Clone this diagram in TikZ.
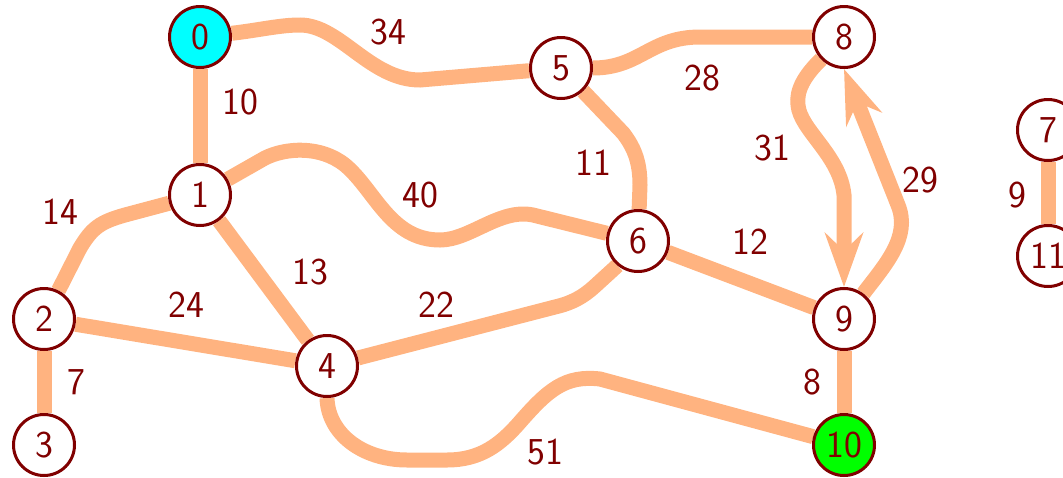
\documentclass[tikz,border=0pt]{standalone}
\usetikzlibrary{arrows.meta,backgrounds}
\definecolor{edgec}{RGB}{255,179,128}
\definecolor{darkred}{RGB}{128,0,0}
\definecolor{cyanfill}{RGB}{0,255,255}
\definecolor{greenfill}{RGB}{0,255,0}
\tikzset{
  vertex/.style={circle,draw=darkred,line width=3pt,fill=white,minimum size=61pt,inner sep=0pt,text=darkred,font=\fontsize{38}{40}\selectfont\sffamily},
  wlabel/.style={text=darkred,inner sep=0pt,font=\fontsize{38}{40}\selectfont\sffamily},
  edge/.style={draw=edgec,line width=15pt},
  arr/.style={-{Stealth[length=54pt,width=38pt,inset=18pt]}}
}
\begin{document}
\begin{tikzpicture}[x=1pt,y=-1pt]
\useasboundingbox (0,0) rectangle (1063,477);
\clip (0,0) rectangle (1063,477);
% nodes
\node[vertex,fill=cyanfill] (n0) at (200,37) {0};
\node[vertex] (n1) at (200,195) {1};
\node[vertex] (n2) at (44,319) {2};
\node[vertex] (n3) at (44,445) {3};
\node[vertex] (n4) at (327,366) {4};
\node[vertex] (n5) at (561,68) {5};
\node[vertex] (n6) at (638,241) {6};
\node[vertex] (n7) at (1048,130) {7};
\node[vertex] (n8) at (844,37) {8};
\node[vertex] (n9) at (844,319) {9};
\node[vertex,fill=greenfill] (n10) at (844,445) {10};
\node[vertex] (n11) at (1048,256) {11};
% labels
\node[wlabel] (l10) at (240,102) {10};
\node[wlabel] (l34) at (388,32) {34};
\node[wlabel] (l28) at (702,78) {28};
\node[wlabel] (l31) at (772,148) {31};
\node[wlabel] (l29) at (920,180) {29};
\node[wlabel] (l14) at (60,212) {14};
\node[wlabel] (l40) at (420,195) {40};
\node[wlabel] (l11) at (593,163) {11};
\node[wlabel] (l13) at (310,272) {13};
\node[wlabel] (l24) at (186,305) {24};
\node[wlabel] (l22) at (436,305) {22};
\node[wlabel] (l12) at (750,242) {12};
\node[wlabel] (l7) at (76,382) {7};
\node[wlabel] (l8) at (812,382) {8};
\node[wlabel] (l51) at (545,452) {51};
\node[wlabel] (l9) at (1017,195) {9};
% edges
\begin{pgfonlayer}{background}
\draw[edge] (n0) -- (n1);
\draw[edge] (n0) .. controls (260,30) and (280,25) .. (300,25) .. controls (340,25) and (370,80) .. (420,80) -- (n5);
\draw[edge] (n5) .. controls (640,68) and (650,37) .. (700,37) -- (n8);
\draw[edge,arr] (n8) .. controls (805,75) and (796,90) .. (798,105) .. controls (800,130) and (840,155) .. (844,195) -- (n9);
\draw[edge,arr] (n9) .. controls (885,265) and (911,237) .. (898,205) -- (n8.south);
\draw[edge] (n1) -- (125,215) .. controls (100,222) and (92,228) .. (80,248) -- (n2);
\draw[edge] (n1) -- (265,158) .. controls (285,148) and (320,145) .. (345,165) .. controls (375,190) and (390,240) .. (440,240) .. controls (470,240) and (500,208) .. (533,215) -- (n6);
\draw[edge] (n1) -- (n4);
\draw[edge] (n2) -- (n4);
\draw[edge] (n2) -- (n3);
\draw[edge] (n4) -- (555,307) .. controls (572,303) and (583,297) .. (595,286) -- (n6.230);
\draw[edge] (n5) -- (623,133) .. controls (633,146) and (640,160) .. (640,185) -- (n6);
\draw[edge] (n6) -- (n9);
\draw[edge] (n9) -- (n10);
\draw[edge] (n4.south) .. controls (328,434) and (363,460) .. (407,460) -- (447,460) .. controls (480,460) and (500,445) .. (520,422) .. controls (548,390) and (565,375) .. (600,379) -- (n10);
\draw[edge] (n7) -- (n11);
\end{pgfonlayer}
\end{tikzpicture}
\end{document}
